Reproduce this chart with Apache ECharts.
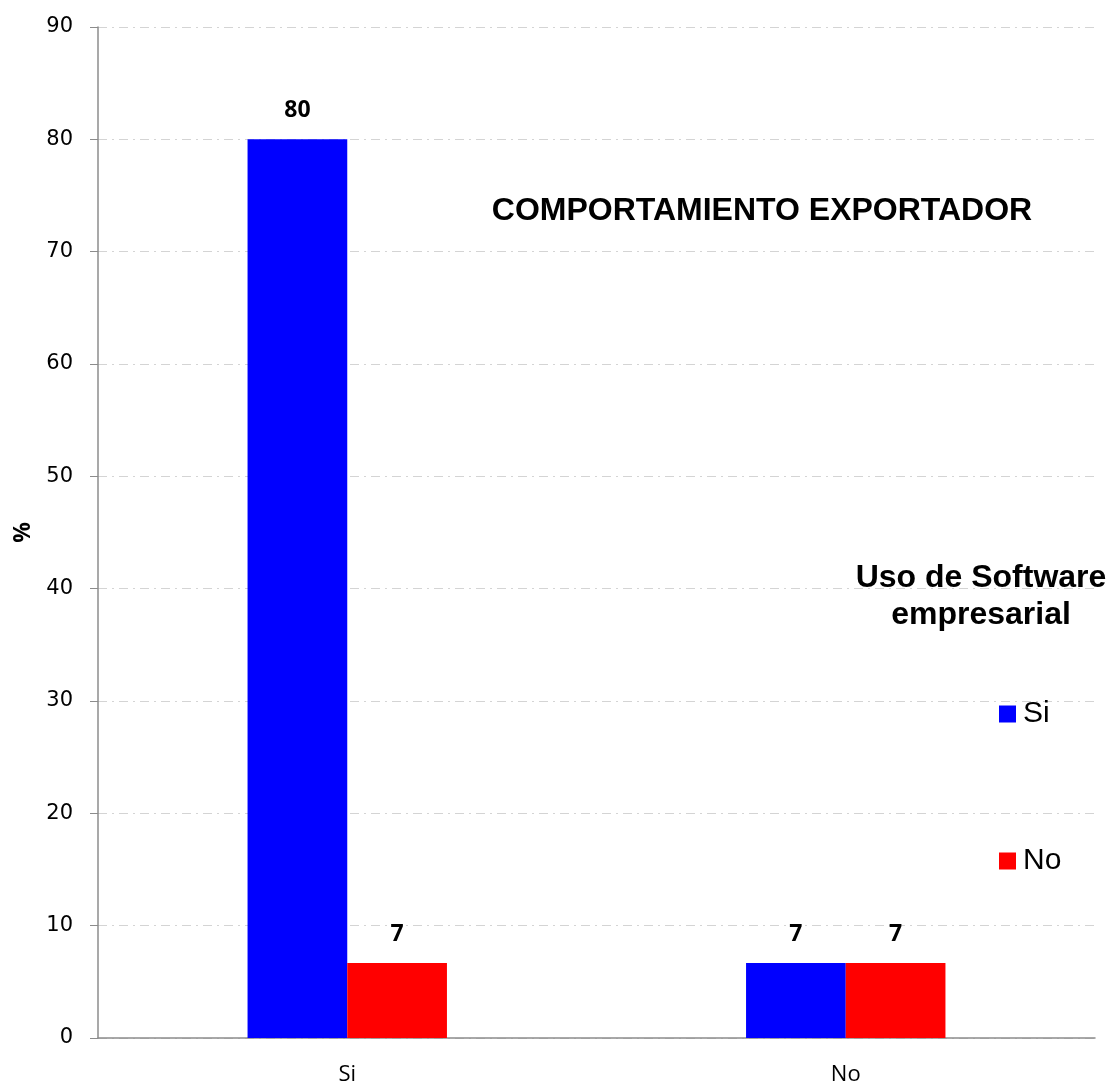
<!DOCTYPE html>
<html>
<head>
<meta charset="utf-8">
<script src="https://cdn.jsdelivr.net/npm/echarts@6/dist/echarts.min.js"></script>
<style>html,body{margin:0;padding:0;background:#fff;}#c{width:1110px;height:1086px;}</style>
</head>
<body>
<div id="c"></div>
<script>
var categories = ['Si', 'No'];
var serieSi = [80, 6.67];
var serieNo = [6.67, 6.67];
var seriesNames = ['Si', 'No'];
var yTicks = [0, 10, 20, 30, 40, 50, 60, 70, 80, 90];

var chart = echarts.init(document.getElementById('c'));
var labelCfg = {
  show: true, position: 'top', distance: 17,
  fontFamily: 'Open Sans', fontWeight: 'bold', fontSize: 23, color: '#000',
  formatter: function (p) { return Math.round(p.value); }
};
var titleFont = 'bold 32px "Liberation Sans", Arial';
function legendFor(name, top) {
  return {
    orient: 'vertical', left: 999, top: top, padding: 0,
    itemWidth: 17, itemHeight: 17, icon: 'rect',
    textStyle: { fontFamily: 'Liberation Sans', fontSize: 30, lineHeight: 30, color: '#000', padding: [0, 0, 0, 2] },
    data: [name]
  };
}
chart.setOption({
  animation: false,
  backgroundColor: '#fff',
  grid: { left: 98, right: 15, top: 27, bottom: 46, containLabel: false },
  graphic: [
    { type: 'text', x: 762, y: 211, style: { text: 'COMPORTAMIENTO EXPORTADOR', font: titleFont, fill: '#000', align: 'center', verticalAlign: 'middle' } },
    { type: 'text', x: 981, y: 578, style: { text: 'Uso de Software', font: titleFont, fill: '#000', align: 'center', verticalAlign: 'middle' } },
    { type: 'text', x: 981, y: 615, style: { text: 'empresarial', font: titleFont, fill: '#000', align: 'center', verticalAlign: 'middle' } }
  ],
  legend: [legendFor(seriesNames[0], 699), legendFor(seriesNames[1], 846)],
  xAxis: {
    type: 'category', data: categories,
    axisLine: { lineStyle: { color: '#8c8c8c', width: 1.5 } },
    axisTick: { show: false },
    axisLabel: { fontFamily: 'Open Sans', fontSize: 22, color: '#000', margin: 26 }
  },
  yAxis: {
    type: 'value', min: 0, max: 90, interval: 10,
    name: '%', nameLocation: 'middle', nameGap: 63, nameRotate: 90,
    nameTextStyle: { fontFamily: 'Open Sans', fontWeight: 'bold', fontSize: 23, color: '#000' },
    axisLine: { show: true, lineStyle: { color: '#8c8c8c', width: 1.5 } },
    axisTick: { show: true, length: 8, lineStyle: { color: '#8c8c8c' } },
    axisLabel: { fontFamily: 'DejaVu Sans', fontSize: 21, color: '#000', margin: 25 },
    splitLine: { show: true, lineStyle: { color: '#d4d4d4', type: [9, 5, 2, 5], width: 1 } }
  },
  series: [
    { name: seriesNames[0], type: 'bar', data: serieSi, barWidth: '20%', barGap: '0%', barCategoryGap: '60%',
      itemStyle: { color: '#0000ff' }, label: labelCfg },
    { name: seriesNames[1], type: 'bar', data: serieNo, barWidth: '20%', barGap: '0%',
      itemStyle: { color: '#ff0000' }, label: labelCfg }
  ]
});
</script>
</body>
</html>
